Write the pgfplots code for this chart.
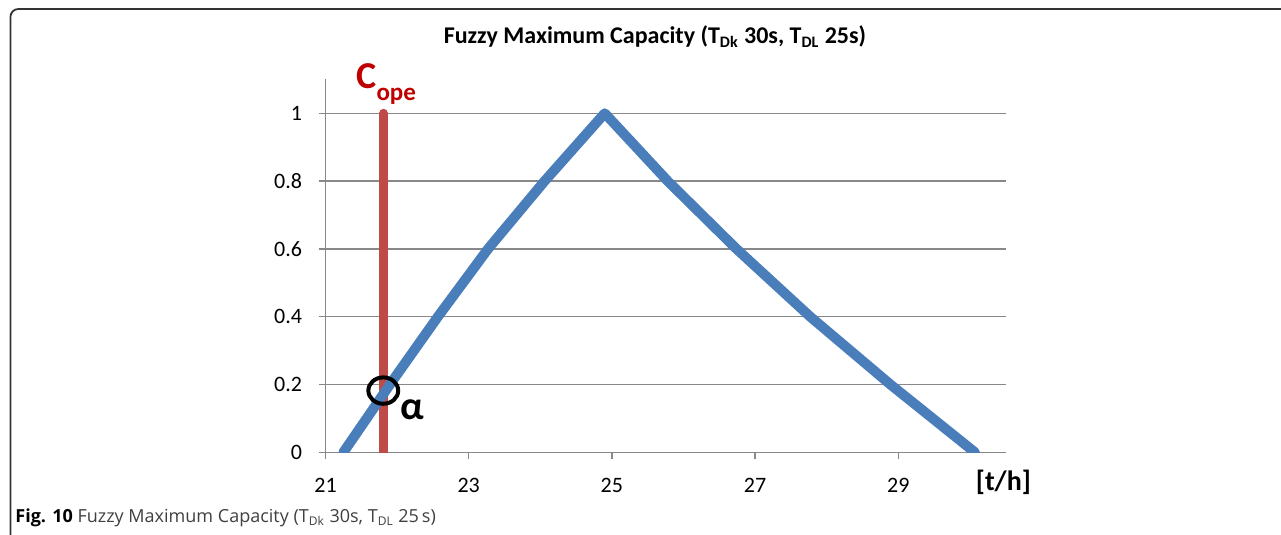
\documentclass[border=0pt]{standalone}
\usepackage{pgfplots}
\pgfplotsset{compat=1.18}
\usepackage{fontspec}
\setmainfont{Carlito}
\newfontfamily\capfont{Open Sans}
\definecolor{myblue}{HTML}{4A7EBB}
\definecolor{myred}{HTML}{BE4B48}
\definecolor{gridgray}{HTML}{888888}
\definecolor{copered}{HTML}{C00000}
\begin{document}
\begin{tikzpicture}
\path[use as bounding box] (0,0) rectangle (640.5pt,267.5pt);
\draw[line width=0.9pt, black!80, rounded corners=4pt] (5.2pt,-2pt) -- (5.2pt,263pt) -- (645pt,263pt);
\begin{axis}[at={(162.75pt,41.35pt)}, anchor=south west, scale only axis,
 width=340.1pt, height=186.45pt,
 xmin=21, xmax=30.5, ymin=0, ymax=1.1,
 axis lines=left, axis line style={-, gridgray, line width=0.75pt},
 xtick={21,23,25,27,29}, xticklabels={21,23,25,27,29},
 ytick={0,0.2,0.4,0.6,0.8,1}, yticklabels={0,0.2,0.4,0.6,0.8,1},
 ymajorgrids, grid style={gridgray, line width=0.75pt},
 tick align=outside, major tick length=3.5pt,
 tick style={gridgray, line width=0.75pt},
 tick label style={font=\fontsize{11pt}{13pt}\selectfont, inner sep=0pt},
 yticklabel style={anchor=east, xshift=-8pt},
 xticklabel style={anchor=north, yshift=-9.5pt},
 ]
\addplot[myred, line width=4.5pt, line cap=round] coordinates {(21.81,0) (21.81,1)};
\addplot[myblue, line width=5pt, line cap=round, line join=round] coordinates {
(21.25,0) (21.90,0.2) (22.57,0.4) (23.27,0.6) (24.06,0.8) (24.90,1)
(25.78,0.8) (26.74,0.6) (27.77,0.4) (28.89,0.2) (30.07,0)};
\addplot[only marks, mark=o, mark size=6.6pt, mark options={xscale=1.13, line width=2pt, draw=black}] coordinates {(21.807,0.182)};
\end{axis}
\node[anchor=base, inner sep=0pt, font=\fontsize{12pt}{14pt}\selectfont\bfseries] at (327.5pt,245.5pt)
 {Fuzzy Maximum Capacity (T\textsubscript{Dk} 30s, T\textsubscript{DL} 25s)};
\node[anchor=base west, inner sep=0pt, text=copered, font=\bfseries] at (178pt,223pt)
 {\fontsize{19pt}{20pt}\selectfont C\raisebox{-6pt}{\fontsize{12.5pt}{13pt}\selectfont ope}};
\node[inner sep=0pt, font=\fontsize{20pt}{22pt}\selectfont\bfseries] at (206pt,62.5pt) {α};
\node[inner sep=0pt, font=\fontsize{14pt}{16pt}\selectfont\bfseries] at (501.7pt,26.5pt) {[t/h]};
\node[anchor=base west, inner sep=0pt, font=\capfont\fontsize{9pt}{11pt}\selectfont] at (7.5pt,6pt)
 {\textbf{Fig. 10} \textcolor{black!75}{Fuzzy Maximum Capacity (T\textsubscript{Dk} 30s, T\textsubscript{DL} 25\,s)}};
\end{tikzpicture}
\end{document}
